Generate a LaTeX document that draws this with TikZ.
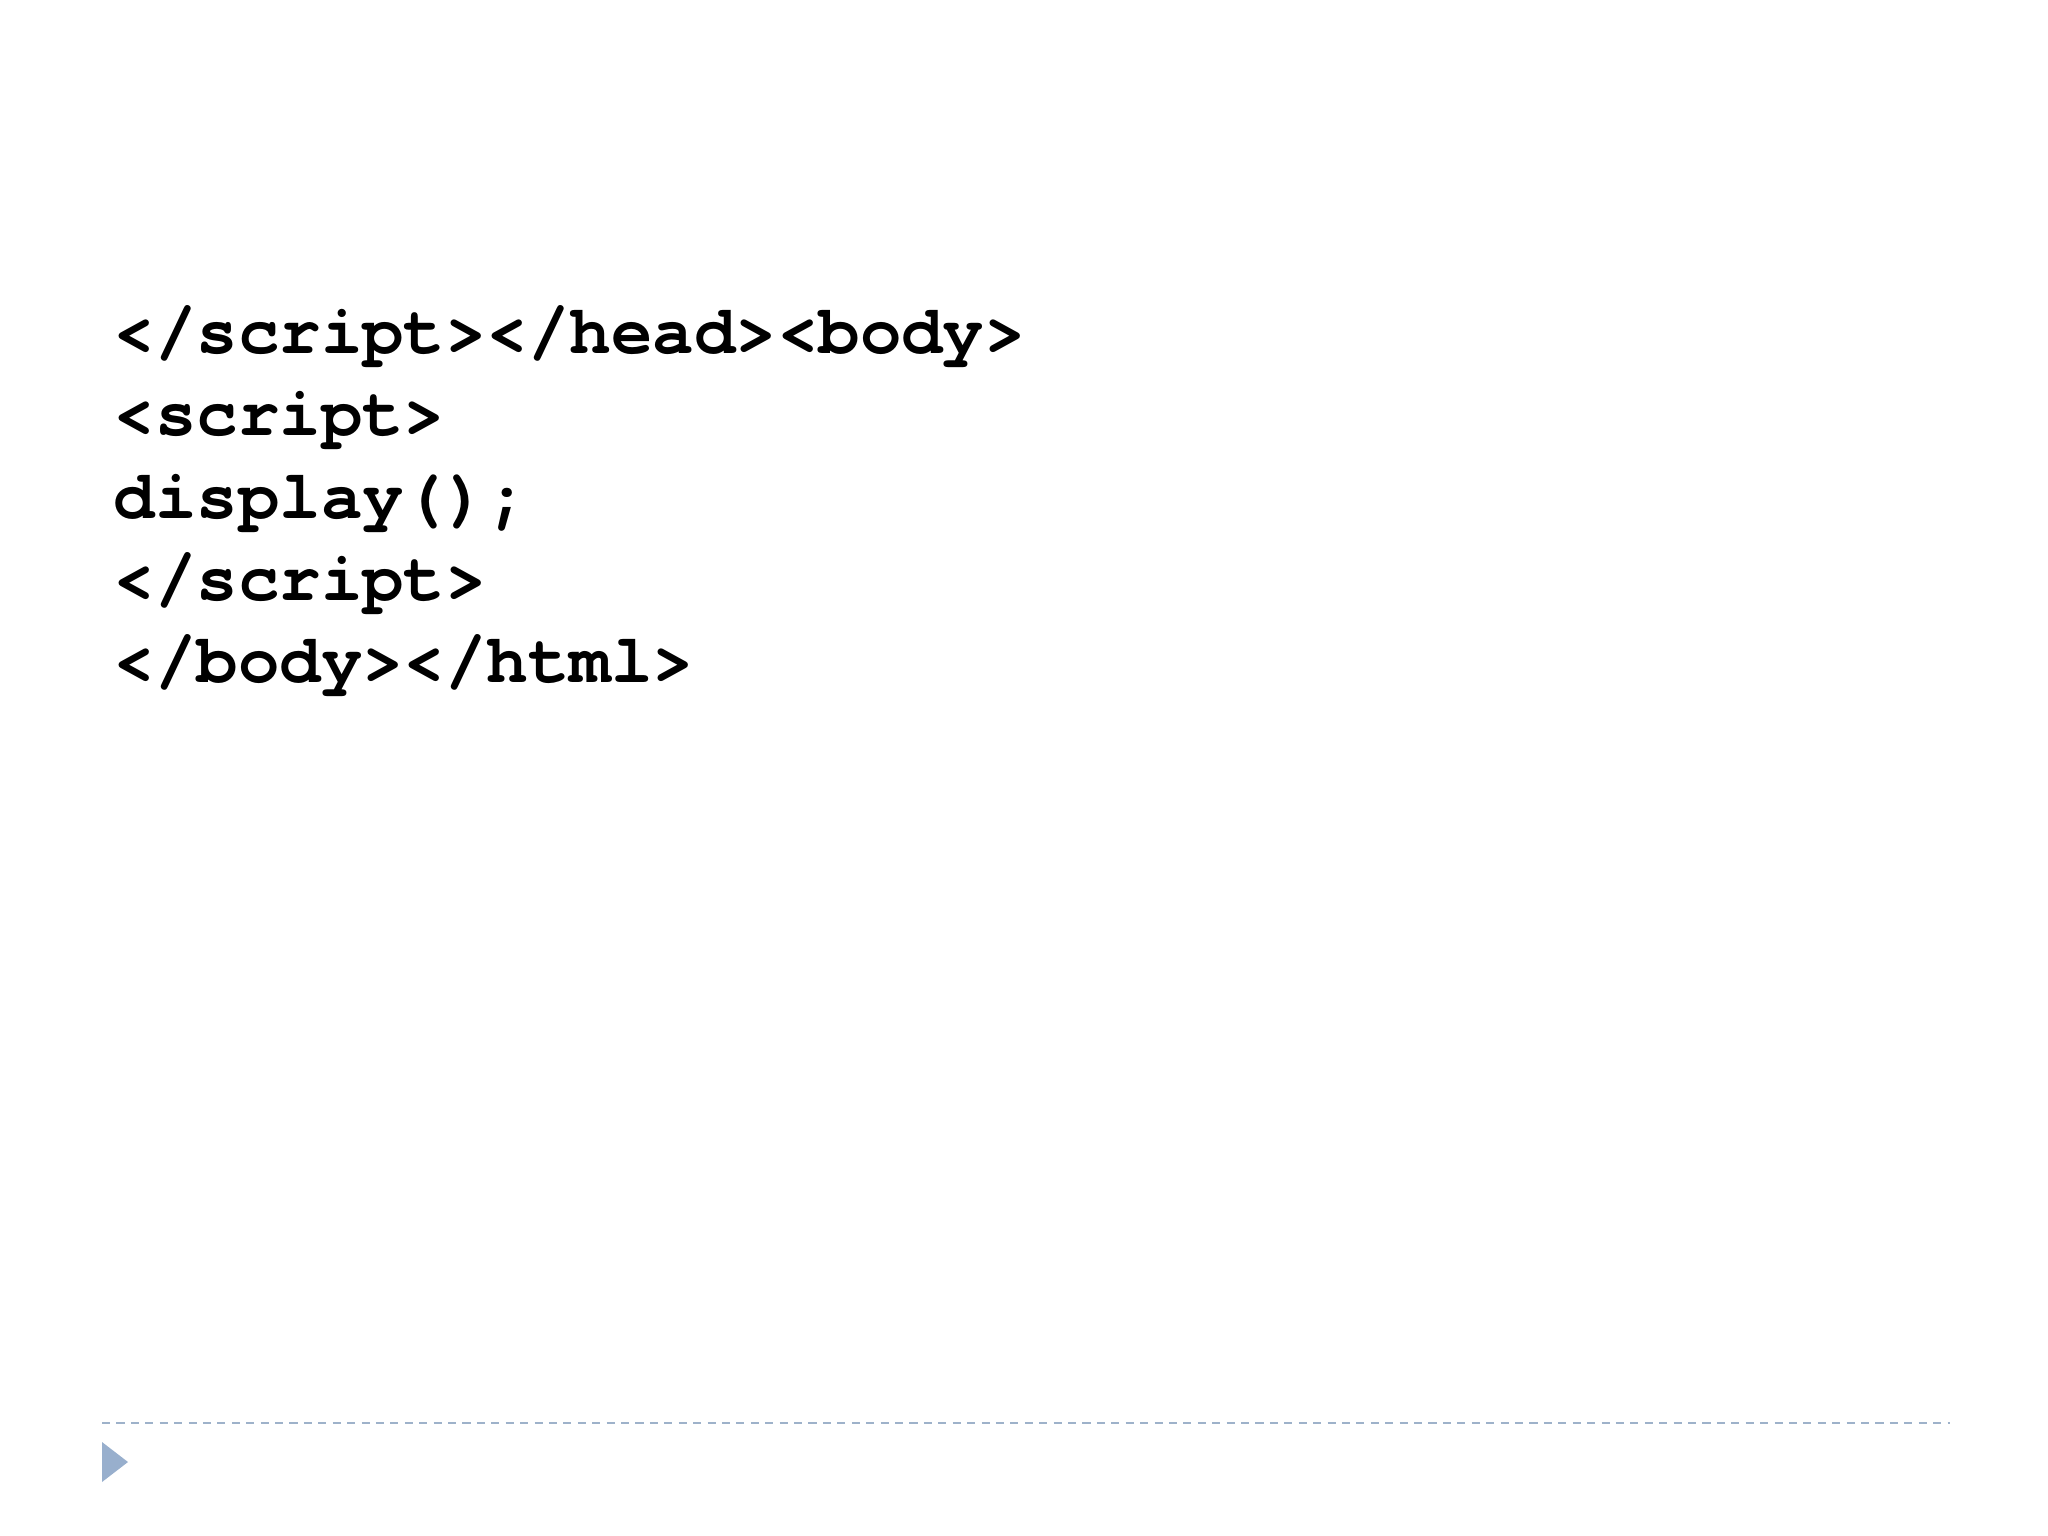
\documentclass[tikz,border=0pt]{standalone}
\usepackage{fontspec}
\newfontfamily\codefont{TeX Gyre Cursor}[BoldFont={* Bold}]
\definecolor{rulecol}{RGB}{158,178,202}
\definecolor{tricol}{RGB}{152,175,205}
\tikzset{codeline/.style={anchor=base west,inner sep=0pt,font=\codefont\bfseries\fontsize{19.65pt}{23.4pt}\selectfont}}
\begin{document}
\begin{tikzpicture}[x=0.01cm,y=-0.01cm]
\useasboundingbox (0,0) rectangle (2048,1536);
\node[codeline] (l1) at (113,353) {</script></head><body>};
\node[codeline] (l2) at (113,435) {<script>};
\node[codeline] (l3) at (113,518) {display();};
\node[codeline] (l4) at (113,600) {</script>};
\node[codeline] (l5) at (113,682) {</body></html>};
\coordinate (rs) at (102,1423);
\coordinate (re) at (1950,1423);
\draw[rulecol,line width=0.55pt,dash pattern=on 2.3pt off 1.8pt] (rs) -- (re);
\fill[tricol] (102,1442) -- (102,1482) -- (128,1462) -- cycle;
\end{tikzpicture}
\end{document}
